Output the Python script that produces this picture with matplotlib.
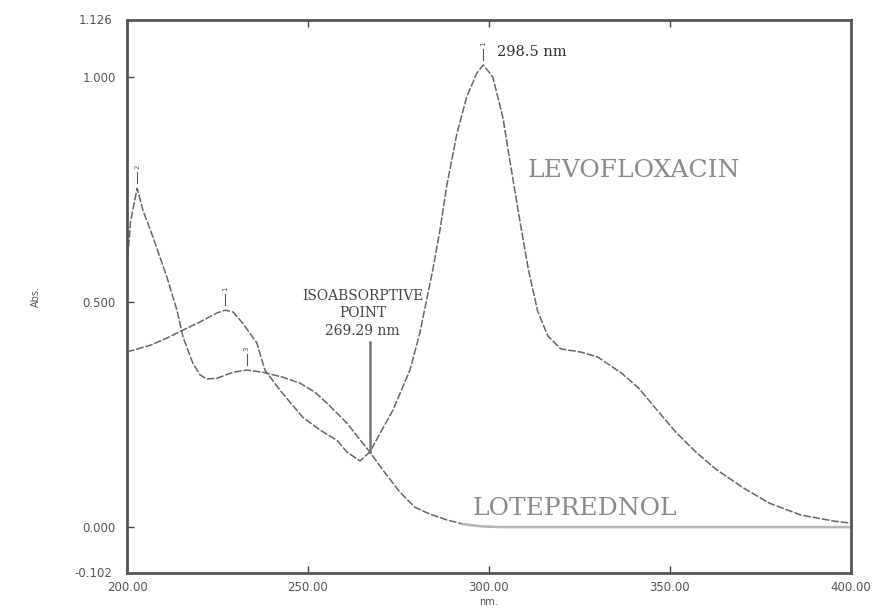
import matplotlib
matplotlib.use("Agg")
import matplotlib.pyplot as plt
import numpy as np

# wavelength (nm) / absorbance
levo_nm = [200.0, 201.7, 206.4, 211.0, 215.5, 220.2, 224.9, 227.1, 229.3, 232.0,
           235.9, 238.1, 242.3, 248.6, 253.3, 258.0, 260.8, 264.4, 267.1, 273.5,
           278.2, 280.9, 284.5, 286.5, 288.4, 291.2, 293.9, 296.7, 298.5, 301.1,
           303.9, 305.8, 308.6, 311.0, 313.5, 316.3, 319.9, 325.4, 330.1, 336.7,
           341.4, 346.1, 351.7, 357.2, 362.7, 370.4, 377.6, 386.2, 395.6, 400.0]
levo_abs = [0.390, 0.393, 0.404, 0.420, 0.438, 0.456, 0.476, 0.482, 0.478, 0.453,
            0.409, 0.349, 0.304, 0.244, 0.216, 0.193, 0.167, 0.147, 0.167, 0.260,
            0.349, 0.430, 0.571, 0.660, 0.760, 0.875, 0.956, 1.009, 1.027, 1.000,
            0.910, 0.815, 0.680, 0.570, 0.480, 0.425, 0.396, 0.389, 0.378, 0.342,
            0.309, 0.264, 0.211, 0.167, 0.129, 0.087, 0.053, 0.027, 0.013, 0.009]

lote_nm = [200.0, 201.0, 202.8, 204.4, 207.2, 211.0, 213.8, 215.5, 218.2, 220.2,
           222.1, 224.9, 229.3, 233.1, 237.6, 243.1, 247.8, 251.9, 255.2, 260.8,
           267.1, 270.7, 275.4, 279.6, 283.7, 288.4, 292.8, 297.5, 303.0, 400.0]
lote_abs = [0.580, 0.680, 0.753, 0.704, 0.644, 0.556, 0.482, 0.422, 0.364, 0.338,
            0.329, 0.331, 0.344, 0.349, 0.344, 0.333, 0.320, 0.300, 0.276, 0.231,
            0.167, 0.127, 0.078, 0.044, 0.029, 0.016, 0.007, 0.002, 0.000, 0.000]

# peak-pick marks: (nm, absorbance, number)
peaks = [(298.5, 1.027, "1"), (227.1, 0.482, "1"), (202.8, 0.753, "2"), (233.1, 0.349, "3")]
iso_nm = 267.1
iso_abs = 0.167

xticks = [200, 250, 300, 350, 400]
xticklabels = ["200.00", "250.00", "300.00", "350.00", "400.00"]
yticks = [-0.102, 0.0, 0.5, 1.0, 1.126]
yticklabels = ["-0.102", "0.000", "0.500", "1.000", "1.126"]

fig = plt.figure(figsize=(8.76, 6.12), dpi=100)
ax = fig.add_axes([0.145, 0.0637, 0.826, 0.903])

line_col = "#666666"
ax.plot(levo_nm, levo_abs, color=line_col, lw=1.1, ls=(0, (5, 1.2)))
ax.plot(lote_nm, lote_abs, color=line_col, lw=1.1, ls=(0, (5, 1.2)))
# flat tail of loteprednol shows as a lighter solid line
tail = [i for i, v in enumerate(lote_nm) if v >= 292.8]
ax.plot([lote_nm[i] for i in tail], [lote_abs[i] for i in tail], color="#b5b5b5", lw=1.8)

for nm, a, lab in peaks:
    ax.plot([nm, nm], [a + 0.012, a + 0.035], color="#555555", lw=0.8)
    ax.text(nm, a + 0.042, lab, fontsize=5, rotation=90, ha="center", va="bottom",
            color="#555555")

# isoabsorptive point
ax.plot([iso_nm, iso_nm], [iso_abs, 0.411], color="#777777", lw=1.8)
ax.text(iso_nm - 2.0, 0.475, "ISOABSORPTIVE\nPOINT\n269.29 nm", ha="center", va="center",
        fontsize=10, family="DejaVu Serif", color="#444444", linespacing=1.3)

ax.text(302.2, 1.056, "298.5 nm", ha="left", va="center", fontsize=10.5,
        family="DejaVu Serif", color="#333333")
ax.text(340.0, 0.793, "LEVOFLOXACIN", ha="center", va="center", fontsize=18,
        family="DejaVu Serif", color="#8a8a8a")
ax.text(323.8, 0.042, "LOTEPREDNOL", ha="center", va="center", fontsize=18,
        family="DejaVu Serif", color="#8a8a8a")

ax.set_xlim(200, 400)
ax.set_ylim(-0.102, 1.126)
ax.set_xticks(xticks)
ax.set_xticklabels(xticklabels)
ax.set_yticks([0.0, 0.5, 1.0])
ax.set_yticklabels(["0.000", "0.500", "1.000"])
ax.tick_params(direction="in", length=5, width=1, color="#444444", labelcolor="#555555",
               labelsize=8.5, top=True, pad=6)
ax.tick_params(axis="y", pad=8)
# end labels of the axis range
ax.text(-0.02, 1.0, yticklabels[-1], transform=ax.transAxes, ha="right", va="center",
        fontsize=8.5, color="#555555")
ax.text(-0.02, 0.0, yticklabels[0], transform=ax.transAxes, ha="right", va="center",
        fontsize=8.5, color="#555555")

for s in ax.spines.values():
    s.set_color("#555555")
    s.set_linewidth(2)

ax.set_xlabel("nm.", fontsize=7, color="#555555", labelpad=2)
ax.set_ylabel("Abs.", fontsize=7, color="#555555", labelpad=30)

fig.savefig("out.png", dpi=100)
